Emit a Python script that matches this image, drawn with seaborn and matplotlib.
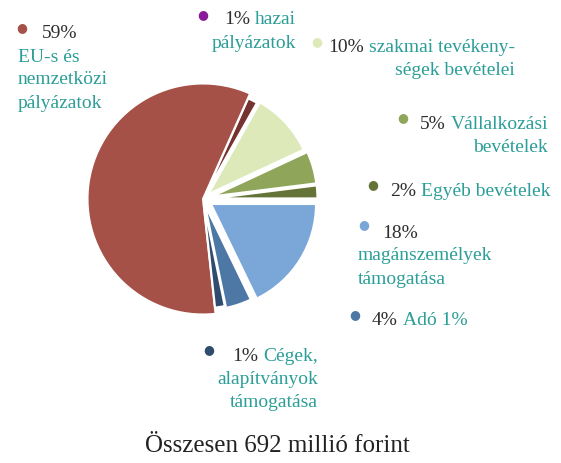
import matplotlib
matplotlib.use("Agg")
import matplotlib.pyplot as plt
import seaborn as sns

# slices, counter-clockwise from 3 o'clock (the "1%" slices look nearer 1.5% in the picture)
pcts = [2, 5, 10, 1.5, 59, 1.5, 4, 18]
pct_text = ["2%", "5%", "10%", "1%", "59%", "1%", "4%", "18%"]
names = ["Egyéb bevételek", "Vállalkozási bevételek", "szakmai tevékenységek bevételei",
         "hazai pályázatok", "EU-s és nemzetközi pályázatok", "Cégek, alapítványok támogatása",
         "Adó 1%", "magánszemélyek támogatása"]
slice_colors = ["#647338", "#8fa65a", "#dde9b8", "#773330", "#a55147", "#2f4b6d", "#4d77a4", "#7aa7d8"]
dot_colors = ["#647338", "#8fa65a", "#dde9b8", "#8a1b98", "#a55147", "#2f4b6d", "#4d77a4", "#7aa7d8"]
explode = [0.09, 0.09, 0.07, 0.05, 0.0, 0.04, 0.06, 0.09]
big = 4  # the large slice is drawn with a bigger radius
title = "Összesen 692 millió forint"

sns.set_theme(style="white")
plt.rcParams['font.family'] = ['Liberation Serif', 'DejaVu Serif']

W, H = 561, 464
fig = plt.figure(figsize=(W / 100, H / 100), dpi=100)

R = 105  # pie radius in px
cx, cy = 203, 200
lim = 1.45
half = lim * R
ax = fig.add_axes([(cx - half) / W, 1 - (cy + half) / H, 2 * half / W, 2 * half / H])
wedges, _ = ax.pie(pcts, colors=sns.color_palette(slice_colors), explode=explode, startangle=0,
                   counterclock=True, wedgeprops=dict(edgecolor="white", linewidth=1.5))
wedges[big].set_radius(1.1)
ax.set_xlim(-lim, lim)
ax.set_ylim(-lim, lim)
ax.set_aspect("equal")
ax.axis("off")

pc = "#2e2e2e"
tc = "#2b9e97"
fs = 14
gap = 5  # px between percent and label
renderer = fig.canvas.get_renderer()


def px(x, y):
    return x / W, 1 - y / H


def dot(i, x, y):
    fig.text(*px(x, y), "●", color=dot_colors[i], fontsize=9, ha="center", va="center",
             family=['DejaVu Sans'])


def txt(x, y, s, color, ha="left"):
    return fig.text(*px(x, y), s, color=color, fontsize=fs, ha=ha, va="center")


def pair(x, y, pct, label, ha="left"):
    if ha == "left":
        t = txt(x, y, pct, pc)
        bb = t.get_window_extent(renderer)
        txt(bb.x1 + gap, y, label, tc)
    else:
        t = txt(x, y, label, tc, ha="right")
        bb = t.get_window_extent(renderer)
        txt(bb.x0 - gap, y, pct, pc, ha="right")


# 59% EU
dot(4, 22, 28)
txt(42, 33, pct_text[4], pc)
txt(18, 57, "EU-s és", tc)
txt(18, 80, "nemzetközi", tc)
txt(18, 103, "pályázatok", tc)

# 1% hazai
dot(3, 203, 15)
pair(296, 20, pct_text[3], "hazai", ha="right")
txt(296, 43, "pályázatok", tc, ha="right")

# 10% szakmai
dot(2, 317, 42)
pair(515, 48, pct_text[2], "szakmai tevékeny-", ha="right")
txt(515, 71, "ségek bevételei", tc, ha="right")

# 5% Vállalkozási
dot(1, 403, 118)
pair(548, 125, pct_text[1], "Vállalkozási", ha="right")
txt(548, 148, "bevételek", tc, ha="right")

# 2% Egyéb
dot(0, 373, 185)
pair(390, 192, pct_text[0], "Egyéb bevételek")

# 18% magánszemélyek
dot(7, 364, 225)
txt(382, 233, pct_text[7], pc)
txt(358, 256, "magánszemélyek", tc)
txt(358, 280, "támogatása", tc)

# 4% Adó
dot(6, 355, 315)
pair(372, 321, pct_text[6], "Adó 1%")

# 1% Cégek
dot(5, 209, 350)
pair(318, 357, pct_text[5], "Cégek,", ha="right")
txt(318, 380, "alapítványok", tc, ha="right")
txt(318, 403, "támogatása", tc, ha="right")

fig.text(*px(277, 446), title, color="#222222", fontsize=18, ha="center", va="center")

fig.savefig("out.png", dpi=100)
